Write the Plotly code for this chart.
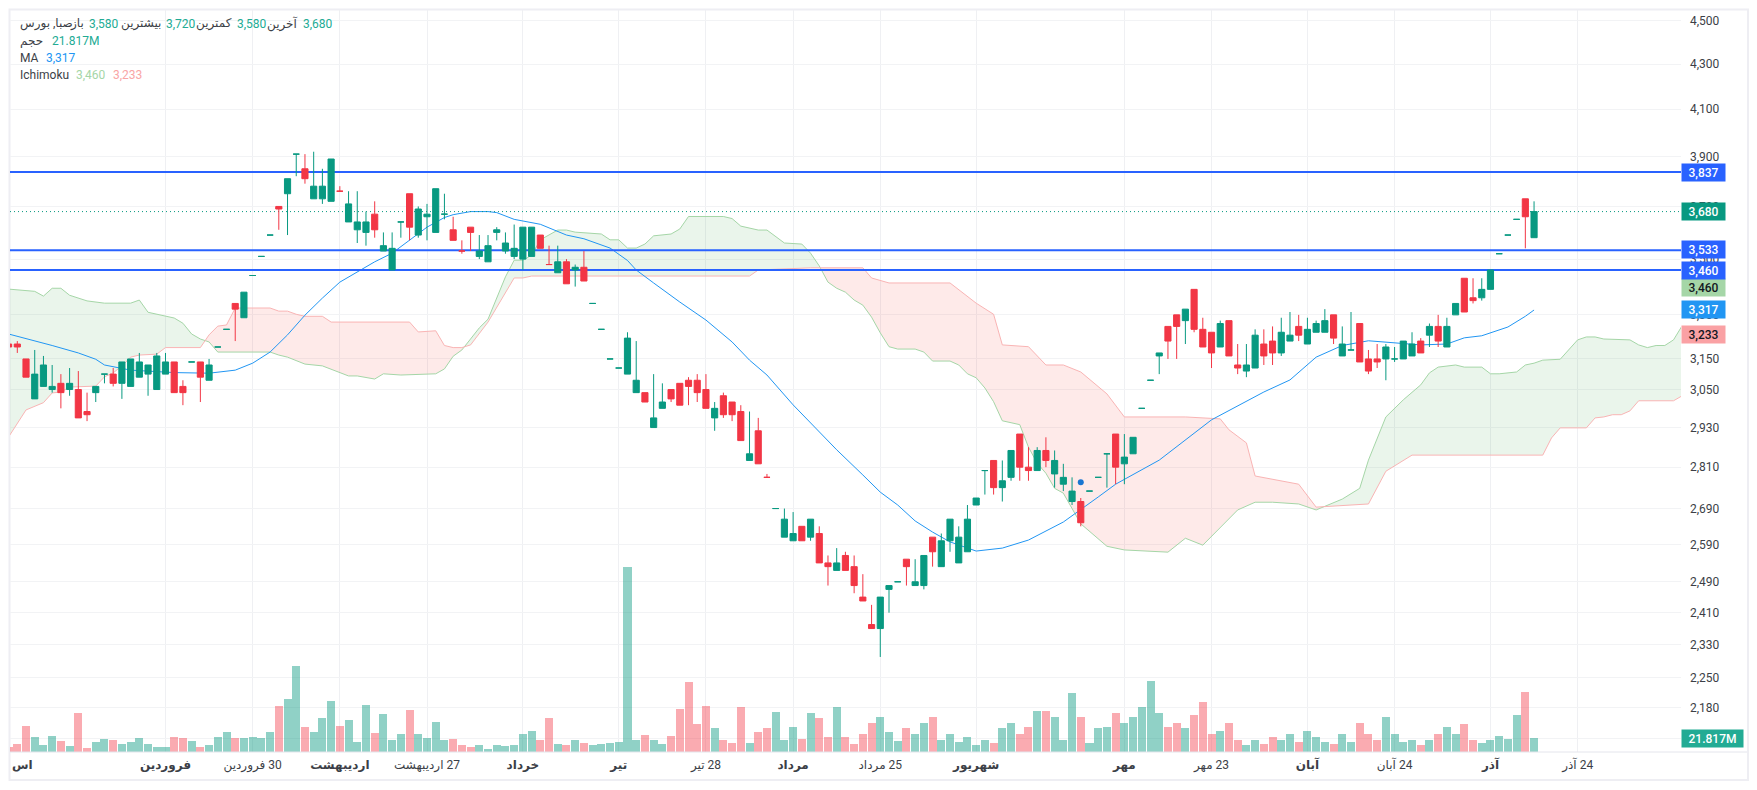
import numpy as np
import plotly.graph_objects as go

FONT = "Roboto, 'Noto Sans', 'DejaVu Sans', sans-serif"
TEAL = "#089981"
RED = "#F23645"
BLUE = "#2962FF"

# candle index -1 is the one cut off at the left edge
opens = [3200, 3200, 3150, 3020, 3060, 3050, 3070, 3050, 3050, 2980,
         3040, 3100, 3100, 3070, 3060, 3090, 3100, 3050, 3100, 3140,
         3060, 3140, 3140, 3080, 3190, 3250, 3340, 3290, 3440, 3510,
         3590, 3700, 3750, 3910, 3850, 3730, 3730, 3720, 3760, 3640,
         3610, 3600, 3670, 3530, 3460, 3640, 3750, 3590, 3660, 3600,
         3670, 3610, 3530, 3620, 3510, 3490, 3600, 3530, 3510, 3500,
         3510, 3590, 3480, 3450, 3490, 3460, 3470, 3340, 3250, 3150,
         3120, 3100, 3040, 3040, 2930, 2990, 3050, 3070, 3080, 3080,
         3050, 2960, 3030, 3010, 2980, 2830, 2920, 2780, 2690, 2610,
         2600, 2640, 2610, 2620, 2540, 2520, 2560, 2530, 2450, 2380,
         2370, 2470, 2490, 2550, 2480, 2480, 2610, 2530, 2600, 2540,
         2570, 2700, 2800, 2830, 2750, 2780, 2910, 2810, 2800, 2860,
         2790, 2760, 2710, 2710, 2740, 2780, 2850, 2910, 2820, 2850,
         2990, 3080, 3160, 3260, 3300, 3280, 3390, 3250, 3240, 3190,
         3280, 3130, 3110, 3120, 3200, 3210, 3170, 3210, 3260, 3200,
         3240, 3240, 3300, 3160, 3180, 3270, 3150, 3150, 3150, 3150,
         3150, 3160, 3210, 3230, 3260, 3190, 3300, 3430, 3360, 3360,
         3390, 3520, 3590, 3650, 3730, 3580]
highs = [3200, 3210, 3150, 3180, 3160, 3130, 3100, 3120, 3110, 3040,
         3060, 3100, 3120, 3140, 3150, 3170, 3130, 3170, 3170, 3140,
         3080, 3140, 3140, 3150, 3190, 3250, 3340, 3380, 3440, 3510,
         3590, 3700, 3810, 3910, 3910, 3920, 3850, 3890, 3780, 3760,
         3760, 3680, 3720, 3600, 3600, 3640, 3750, 3700, 3710, 3770,
         3750, 3660, 3570, 3620, 3590, 3590, 3620, 3600, 3630, 3620,
         3620, 3590, 3550, 3550, 3500, 3480, 3530, 3340, 3250, 3150,
         3120, 3240, 3210, 3040, 3100, 3070, 3050, 3070, 3090, 3100,
         3100, 3010, 3040, 3010, 3000, 2980, 2960, 2790, 2690, 2690,
         2680, 2640, 2660, 2640, 2560, 2580, 2570, 2560, 2510, 2430,
         2450, 2480, 2490, 2550, 2550, 2560, 2610, 2620, 2660, 2640,
         2700, 2720, 2800, 2830, 2830, 2860, 2910, 2870, 2870, 2900,
         2860, 2820, 2780, 2720, 2740, 2780, 2850, 2910, 2910, 2900,
         2990, 3080, 3170, 3260, 3300, 3320, 3390, 3290, 3240, 3280,
         3280, 3200, 3200, 3250, 3250, 3260, 3290, 3310, 3300, 3290,
         3280, 3320, 3300, 3260, 3310, 3270, 3180, 3200, 3200, 3190,
         3210, 3240, 3220, 3270, 3300, 3290, 3340, 3430, 3430, 3430,
         3460, 3520, 3590, 3650, 3730, 3720]
lows = [3190, 3170, 3090, 3020, 3060, 3040, 2990, 3030, 2960, 2950,
        3010, 3070, 3060, 3020, 3060, 3090, 3030, 3050, 3100, 3040,
        3000, 3140, 3010, 3080, 3190, 3250, 3210, 3290, 3440, 3510,
        3590, 3610, 3590, 3820, 3790, 3730, 3710, 3720, 3760, 3640,
        3560, 3550, 3580, 3530, 3460, 3580, 3570, 3580, 3570, 3600,
        3650, 3570, 3520, 3530, 3500, 3490, 3570, 3520, 3500, 3460,
        3510, 3540, 3480, 3450, 3410, 3400, 3420, 3340, 3250, 3150,
        3120, 3100, 3040, 3010, 2930, 2990, 3010, 3000, 3000, 3010,
        2990, 2920, 2960, 2950, 2890, 2830, 2820, 2780, 2690, 2610,
        2600, 2600, 2600, 2540, 2480, 2520, 2520, 2460, 2440, 2370,
        2300, 2410, 2490, 2480, 2480, 2470, 2530, 2530, 2570, 2540,
        2570, 2700, 2730, 2730, 2710, 2770, 2770, 2770, 2800, 2810,
        2750, 2740, 2700, 2640, 2740, 2780, 2750, 2760, 2760, 2850,
        2990, 3080, 3100, 3150, 3150, 3200, 3240, 3190, 3120, 3190,
        3160, 3100, 3090, 3120, 3130, 3130, 3160, 3210, 3210, 3200,
        3240, 3240, 3200, 3160, 3180, 3140, 3100, 3120, 3080, 3140,
        3150, 3160, 3170, 3190, 3190, 3190, 3300, 3310, 3340, 3350,
        3390, 3520, 3590, 3650, 3540, 3580]
closes = [3190, 3190, 3090, 3100, 3130, 3060, 3040, 3070, 2960, 2970,
          3060, 3100, 3070, 3140, 3150, 3140, 3130, 3160, 3140, 3040,
          3040, 3140, 3090, 3130, 3190, 3250, 3320, 3380, 3440, 3510,
          3590, 3690, 3810, 3910, 3810, 3780, 3780, 3890, 3760, 3710,
          3640, 3640, 3610, 3550, 3540, 3640, 3620, 3690, 3670, 3770,
          3670, 3570, 3530, 3600, 3530, 3550, 3610, 3560, 3540, 3620,
          3620, 3540, 3480, 3490, 3410, 3470, 3420, 3340, 3250, 3150,
          3120, 3220, 3080, 3010, 2960, 3010, 3020, 3000, 3060, 3040,
          2990, 2990, 2970, 2970, 2890, 2850, 2820, 2780, 2690, 2660,
          2620, 2600, 2660, 2540, 2530, 2540, 2520, 2480, 2440, 2370,
          2450, 2480, 2490, 2530, 2490, 2560, 2570, 2600, 2660, 2610,
          2660, 2720, 2800, 2750, 2770, 2860, 2810, 2800, 2860, 2830,
          2830, 2780, 2740, 2650, 2740, 2780, 2850, 2810, 2840, 2900,
          2990, 3080, 3170, 3210, 3260, 3320, 3250, 3190, 3170, 3270,
          3160, 3120, 3130, 3230, 3160, 3170, 3240, 3230, 3230, 3250,
          3270, 3280, 3220, 3200, 3180, 3140, 3110, 3140, 3190, 3150,
          3210, 3200, 3170, 3260, 3210, 3260, 3340, 3310, 3350, 3390,
          3460, 3520, 3590, 3650, 3660, 3680]
# flat candles that the source paints red
red_dojis = [37, 51, 61, 86]

volumes_m = [8.4, 13, 41, 24, 11.5, 25.6, 17.8, 10, 61.8, 6.8,
             16.2, 20.9, 19.4, 13, 16.2, 22.5, 13, 8.4, 8.4, 24,
             22.5, 17.8, 8.4, 11.5, 24, 32, 22.5, 22.5, 24, 22.5,
             32, 72.8, 83.7, 135.5, 39.8, 32, 53.9, 80.6, 41, 50.8,
             16.2, 74.3, 30.4, 60.2, 19.4, 28.8, 66.5, 28.8, 22.5, 47.6,
             19.4, 20.9, 11.5, 8.4, 11.5, 5.2, 11.5, 10, 11.5, 28,
             33, 19, 53, 12, 11, 19, 14, 11, 12, 14,
             16, 290, 19, 26, 19, 12, 25, 67, 110, 44,
             72, 37, 19, 14, 70, 14, 32, 37, 63, 19,
             40, 21, 62, 53, 23, 70, 23, 12, 28, 46,
             55, 32, 18, 37, 28, 46, 55, 19, 28, 16,
             23, 11, 19, 14, 37, 46, 28, 40, 65, 65,
             55, 19, 93, 55, 14, 37, 40, 62, 46, 55,
             70, 111, 62, 40, 46, 37, 58, 79, 28, 33,
             46, 19, 11, 19, 12, 23, 19, 28, 16, 33,
             23, 16, 12, 28, 16, 46, 28, 19, 55, 28,
             16, 19, 11, 19, 28, 40, 28, 44, 19, 14,
             19, 25, 20, 58, 94, 21.817]

ma_idx = [-1, 2, 4, 7, 9, 10, 12, 13, 18, 22, 25, 27, 29, 31, 33, 35, 37, 39, 41, 43,
          45, 47, 49, 50, 52, 54, 55, 57, 60, 63, 65, 68, 70, 71, 73, 76, 79, 82, 84, 86,
          89, 92, 94, 97, 99, 101, 103, 105, 107, 110, 113, 116, 120, 124, 126, 131, 137,
          143, 146, 149, 152, 155, 158, 161, 164, 166, 168, 171, 173, 174]
ma_values = [3234, 3212, 3195, 3170, 3149, 3130, 3120, 3113, 3105, 3103, 3113, 3136, 3173, 3231,
             3299, 3359, 3416, 3453, 3490, 3522, 3572, 3620, 3657, 3668, 3680, 3680, 3676, 3650,
             3631, 3590, 3576, 3541, 3495, 3460, 3413, 3345, 3282, 3207, 3146, 3097, 3001, 2917,
             2862, 2787, 2737, 2700, 2655, 2624, 2597, 2572, 2580, 2602, 2652, 2723, 2760, 2831,
             2954, 3042, 3081, 3156, 3195, 3211, 3204, 3197, 3200, 3221, 3228, 3258, 3295, 3317]

span_a_idx = [-1, 2, 3, 4, 5, 6, 8, 10, 13, 14, 15, 16, 18, 19, 20, 21, 22, 23, 29, 30,
              31, 33, 35, 38, 39, 41, 42, 44, 48, 49, 50, 51, 53, 54, 56, 57, 58, 59, 60, 62,
              63, 64, 66, 67, 68, 69, 70, 71, 72, 73, 75, 76, 77, 81, 82, 83, 85, 86, 88, 90,
              91, 92, 93, 94, 95, 96, 97, 98, 99, 100, 101, 103, 104, 105, 107, 108, 109, 110,
              111, 112, 113, 115, 116, 117, 118, 119, 120, 122, 125, 127, 132, 134, 136, 138,
              140, 142, 144, 147, 149, 152, 154, 155, 157, 159, 160, 161, 162, 163, 165, 166,
              168, 169, 170, 172, 173, 174, 175, 177, 179, 180, 181, 182, 185, 186, 187, 188,
              189, 190, 191]
span_a = [3391, 3383, 3366, 3394, 3394, 3369, 3349, 3341, 3341, 3352, 3309, 3302, 3289, 3271,
          3234, 3217, 3207, 3173, 3173, 3163, 3156, 3133, 3127, 3094, 3094, 3084, 3101, 3097,
          3101, 3117, 3159, 3180, 3255, 3285, 3435, 3496, 3496, 3514, 3572, 3609, 3609, 3601,
          3598, 3594, 3572, 3572, 3541, 3541, 3556, 3587, 3594, 3613, 3661, 3661, 3653, 3624,
          3609, 3609, 3560, 3556, 3522, 3475, 3416, 3394, 3380, 3352, 3334, 3292, 3238, 3191,
          3183, 3183, 3173, 3143, 3143, 3130, 3101, 3088, 3055, 3011, 2951, 2939, 2870, 2822,
          2792, 2748, 2734, 2647, 2585, 2575, 2569, 2607, 2588, 2638, 2686, 2708, 2708, 2703,
          2686, 2717, 2748, 2831, 2963, 3017, 3042, 3065, 3104, 3123, 3130, 3123, 3123, 3101,
          3101, 3107, 3130, 3136, 3146, 3149, 3214, 3224, 3224, 3217, 3214, 3197, 3188, 3195,
          3195, 3214, 3263]

span_b_idx = [-1, 1, 3, 4, 5, 6, 9, 10, 11, 12, 13, 14, 16, 17, 21, 22, 23, 24, 25, 29,
              30, 31, 32, 33, 35, 36, 45, 46, 48, 49, 50, 51, 52, 54, 57, 58, 59, 84, 85, 91,
              97, 98, 100, 107, 110, 112, 113, 116, 118, 120, 122, 123, 125, 127, 134, 138,
              139, 141, 142, 147, 149, 155, 157, 160, 175, 176, 177, 180, 181, 182, 183, 184,
              185, 186, 190, 191]
span_b = [2901, 2985, 3008, 3039, 3042, 3058, 3061, 3091, 3104, 3127, 3156, 3163, 3166, 3188,
          3188, 3231, 3261, 3265, 3324, 3324, 3313, 3313, 3302, 3295, 3295, 3275, 3275, 3241,
          3245, 3195, 3188, 3188, 3197, 3275, 3431, 3431, 3438, 3438, 3460, 3468, 3468, 3431,
          3413, 3413, 3341, 3302, 3197, 3191, 3130, 3130, 3107, 3084, 3036, 2963, 2963, 2957,
          2923, 2883, 2784, 2760, 2694, 2703, 2798, 2846, 2846, 2898, 2929, 2929, 2960, 2963,
          2970, 2970, 2982, 3014, 3014, 3030]

level_lines = [3837, 3533, 3460]
last_price = 3680
signal_idx = [122]
signal_price = [2766]

price_ticks = [4500, 4300, 4100, 3900, 3700, 3500, 3300, 3150, 3050, 2930, 2810,
               2690, 2590, 2490, 2410, 2330, 2250, 2180, 2110]
date_ticks = [17, 27, 37, 47, 58, 69, 79, 89, 99, 110, 127, 137, 148, 158, 169, 179]
# the LRM keeps the day number on the right of the month name, as in the source
date_labels = ["<b>فروردین</b>", "فروردین\u200e 30", "<b>اردیبهشت</b>", "اردیبهشت\u200e 27", "<b>خرداد</b>",
               "<b>تیر</b>", "تیر\u200e 28", "<b>مرداد</b>", "مرداد\u200e 25", "<b>شهریور</b>", "<b>مهر</b>",
               "مهر\u200e 23", "<b>آبان</b>", "آبان\u200e 24", "<b>آذر</b>", "آذر\u200e 24"]

# pixel frame of the plot inside the page (body has its 8px default margin)
PX_L, PX_R, PX_T, PX_B = 10, 1681, 10, 752
BAR_PX = 8.717


def px_x(px):
    return (px - PX_L) / (PX_R - PX_L)


def px_y(py):
    return 1 - (py - PX_T) / (PX_B - PX_T)


xs = list(range(-1, len(opens) - 1))
is_red = [o > c or i in red_dojis for i, o, c in zip(xs, opens, closes)]
x_range = [(PX_L - 17.3) / BAR_PX, (PX_R - 17.3) / BAR_PX]
y_range = [np.log10(3837 * np.exp((172 - PX_B) / 947.6)), np.log10(3837 * np.exp((172 - PX_T) / 947.6))]


def cloud_polygons(positive):
    """split the space between the two spans into polygons, one per side of the crossings"""
    grid = sorted(set(span_a_idx) | set(span_b_idx))
    a = np.interp(grid, span_a_idx, np.log10(span_a))
    b = np.interp(grid, span_b_idx, np.log10(span_b))
    polys, top, bottom, px = [], [], [], []
    for k, g in enumerate(grid):
        d = a[k] - b[k]
        if k > 0:
            dp = a[k - 1] - b[k - 1]
            if dp * d < 0:
                t = dp / (dp - d)
                cx = grid[k - 1] + t * (g - grid[k - 1])
                cy = a[k - 1] + t * (a[k] - a[k - 1])
                if px:
                    px.append(cx), top.append(cy), bottom.append(cy)
                    polys.append((px, top, bottom))
                    px, top, bottom = [], [], []
                else:
                    px, top, bottom = [cx], [cy], [cy]
        if (d >= 0) == positive:
            px.append(g), top.append(a[k]), bottom.append(b[k])
    if px:
        polys.append((px, top, bottom))
    return polys


fig = go.Figure()

for positive, color in [(True, "rgba(67,160,71,0.11)"), (False, "rgba(244,67,54,0.11)")]:
    for px, top, bottom in cloud_polygons(positive):
        fig.add_trace(go.Scatter(x=px + px[::-1], y=list(10 ** np.array(top)) + list(10 ** np.array(bottom[::-1])),
                                 mode="none", fill="toself", fillcolor=color, hoverinfo="skip"))

fig.add_trace(go.Scatter(x=span_a_idx, y=span_a, mode="lines", line=dict(color="#A5D6A7", width=1)))
fig.add_trace(go.Scatter(x=span_b_idx, y=span_b, mode="lines", line=dict(color="#F9B4B4", width=1)))
fig.add_trace(go.Scatter(x=ma_idx, y=ma_values, mode="lines", line=dict(color="#2196F3", width=1)))

for level in level_lines:
    fig.add_trace(go.Scatter(x=x_range, y=[level, level], mode="lines", line=dict(color=BLUE, width=2)))
fig.add_trace(go.Scatter(x=x_range, y=[last_price, last_price], mode="lines",
                         line=dict(color=TEAL, width=1, dash="1px,3px")))
fig.add_trace(go.Scatter(x=signal_idx, y=signal_price, mode="markers",
                         marker=dict(color="#1976D2", size=6)))

# volume on its own overlay, 0 at the bottom of the pane
fig.add_trace(go.Bar(x=xs, y=volumes_m, yaxis="y2", width=0.92, marker_line_width=0,
                     marker_color=["rgba(242,54,69,0.42)" if r else "rgba(8,153,129,0.45)" for r in is_red]))

# one candlestick trace per colour, flat candles would follow the previous close otherwise
for flag, color in [(False, TEAL), (True, RED)]:
    sel = [k for k, r in enumerate(is_red) if r == flag]
    style = dict(line=dict(color=color, width=1), fillcolor=color)
    fig.add_trace(go.Candlestick(x=[xs[k] for k in sel], open=[opens[k] for k in sel],
                                 high=[highs[k] for k in sel], low=[lows[k] for k in sel],
                                 close=[closes[k] for k in sel], yaxis="y3",
                                 increasing=style, decreasing=style, whiskerwidth=0))

annotations = []


def add_text(text, px, py, color="#3c3f47", size=12, anchor="left"):
    annotations.append(dict(text=text, x=px_x(px), y=px_y(py), xref="paper", yref="paper", showarrow=False,
                            xanchor=anchor, yanchor="middle", font=dict(family=FONT, size=size, color=color)))


# legend rows, each Persian label sits right up against its number
LEG_GREEN = "#22AB94"
add_text("صبا, بورس", 18, 24)
for label, value, vx in [("باز", "3,580", 87), ("بیشترین", "3,720", 164),
                         ("کمترین", "3,580", 235), ("آخرین", "3,680", 301)]:
    add_text(label, vx - 1, 24, anchor="right")
    add_text(value, vx, 24, LEG_GREEN)
add_text("حجم", 18, 41)
add_text("21.817M", 50, 41, LEG_GREEN)
add_text("MA", 18, 58)
add_text("3,317", 44, 58, "#2196F3")
add_text("Ichimoku", 18, 75)
add_text("3,460", 74, 75, "#A5D6A7")
add_text("3,233", 111, 75, "#F9A5A5")

# clipped month name at the left edge
add_text("<b>اس</b>", 10, 765)

# value boxes on the price scale
for text, py, bg, fg, w in [("3,837", 172, BLUE, "white", 43), ("3,680", 211, TEAL, "white", 43),
                            ("3,533", 250, BLUE, "white", 43), ("3,460", 287, "#A5D6A7", "#131722", 43),
                            ("3,460", 270, BLUE, "white", 43), ("3,317", 310, "#2196F3", "white", 43),
                            ("3,233", 334.5, "#FAA1A4", "#131722", 43),
                            ("21.817M", 738.5, "#22AB94", "white", 61)]:
    annotations.append(dict(text=text, x=px_x(PX_R), y=px_y(py), xref="paper", yref="paper", showarrow=False,
                            xanchor="left", yanchor="middle", width=w, height=17, bgcolor=bg, borderpad=0,
                            align="center", font=dict(family=FONT, size=12, color=fg, weight=500)))

fig.update_layout(
    width=1741, height=774, autosize=False,
    margin=dict(l=PX_L - 8, r=1749 - PX_R, t=PX_T - 8, b=782 - PX_B),
    paper_bgcolor="white", plot_bgcolor="white",
    showlegend=False, boxgap=0.12, boxgroupgap=0.2, bargap=0,
    hovermode=False,
    font=dict(family=FONT, size=12, color="#3c3f47"),
    xaxis=dict(range=x_range, tickmode="array", tickvals=date_ticks, ticktext=date_labels,
               showgrid=True, gridcolor="#EFF0F3", gridwidth=1, zeroline=False, ticklen=0,
               showline=False, rangeslider=dict(visible=False), ticklabelstandoff=4,
               tickfont=dict(size=12, color="#3c3f47")),
    yaxis=dict(type="log", side="right", range=y_range, tickmode="array", tickvals=price_ticks,
               tickformat=",d", showgrid=True, gridcolor="#F2F3F5", gridwidth=1, zeroline=False,
               ticklen=0, showline=False, ticklabelstandoff=8, tickfont=dict(size=12, color="#3c3f47")),
    yaxis2=dict(overlaying="y", range=[0, 742 * 1.57], visible=False, fixedrange=True),
    yaxis3=dict(overlaying="y", type="log", range=y_range, visible=False),
    annotations=annotations,
    shapes=[
        # outer frame and the bottom rule under the panes
        dict(type="rect", xref="paper", yref="paper", x0=px_x(9.5), x1=px_x(1748), y0=px_y(9.5), y1=px_y(780),
             line=dict(color="#EEEEF3", width=2), layer="below"),
        dict(type="line", xref="paper", yref="paper", x0=0, x1=px_x(1747), y0=0, y1=0,
             line=dict(color="#E4E5EC", width=1)),
    ],
)

fig.write_html("out.html")
